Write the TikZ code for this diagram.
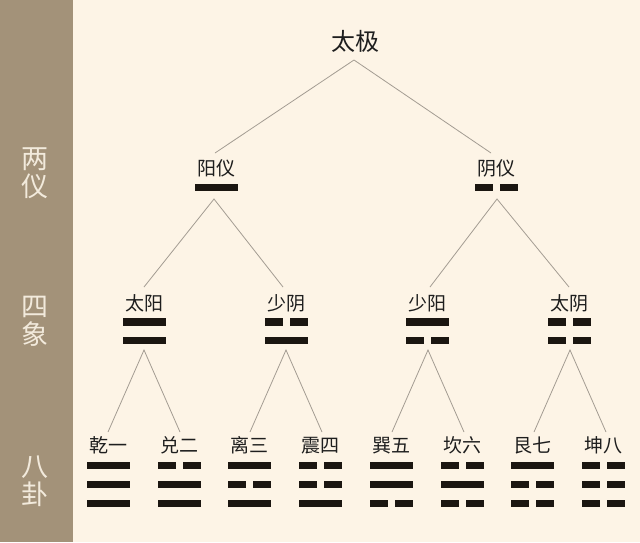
\documentclass[tikz,border=0pt]{standalone}
\usepackage{fontspec}
\setmainfont{Noto Sans CJK SC}
\definecolor{bgcream}{HTML}{FDF4E6}
\definecolor{bandcol}{HTML}{A39279}
\definecolor{bandtext}{HTML}{F2EADC}
\definecolor{barcol}{HTML}{1B1611}
\definecolor{linkcol}{HTML}{A39C92}
\definecolor{txtcol}{HTML}{1E1E1E}
\newcommand{\yangbar}[2]{\fill[barcol] ({#1-21.5},{#2-3.8}) rectangle ({#1+21.5},{#2+3.8});}
\newcommand{\yinbar}[2]{\fill[barcol] ({#1-21.5},{#2-3.8}) rectangle ({#1-3.5},{#2+3.8});
  \fill[barcol] ({#1+3.5},{#2-3.8}) rectangle ({#1+21.5},{#2+3.8});}
\tikzset{
  lbl/.style={inner sep=0pt, text=txtcol, font=\fontsize{19}{19}\selectfont},
  toplbl/.style={inner sep=0pt, text=txtcol, font=\fontsize{24}{24}\selectfont},
  bandlbl/.style={inner sep=0pt, text=bandtext, align=center, font=\fontsize{27}{28}\selectfont},
  link/.style={draw=linkcol, line width=0.8pt}
}
\begin{document}
\begin{tikzpicture}[x=1pt,y=-1pt]
\useasboundingbox (0,0) rectangle (640,542);
\fill[bgcream] (0,0) rectangle (640,542);
\fill[bandcol] (0,0) rectangle (73,542);
% band labels
\node[bandlbl] (liangyi) at (35,173) {两\\仪};
\node[bandlbl] (sixiang) at (35,321) {四\\象};
\node[bandlbl] (bagua) at (35,481) {八\\卦};
% top
\node[toplbl] (taiji) at (355,41) {太极};
\coordinate (taiji-b) at (354,60);
% level 1
\node[lbl] (yangyi) at (216,168.5) {阳仪};
\node[lbl] (yinyi) at (496.5,168.5) {阴仪};
\yangbar{216}{187.5}
\yinbar{496.5}{187.5}
\coordinate (yangyi-t) at (215,153);
\coordinate (yinyi-t) at (491,153);
\coordinate (yangyi-b) at (214,199);
\coordinate (yinyi-b) at (497,199);
% level 2
\node[lbl] (taiyang) at (144.5,303.5) {太阳};
\node[lbl] (shaoyin) at (286,303.5) {少阴};
\node[lbl] (shaoyang) at (427.5,303.5) {少阳};
\node[lbl] (taiyin) at (569.5,303.5) {太阴};
\yangbar{144.5}{322}\yangbar{144.5}{340.5}
\yinbar{286}{322}\yangbar{286}{340.5}
\yangbar{427.5}{322}\yinbar{427.5}{340.5}
\yinbar{569.5}{322}\yinbar{569.5}{340.5}
\coordinate (taiyang-t) at (144,287);
\coordinate (shaoyin-t) at (283,287);
\coordinate (shaoyang-t) at (430,287);
\coordinate (taiyin-t) at (569,287);
\coordinate (taiyang-b) at (144,350);
\coordinate (shaoyin-b) at (286,350);
\coordinate (shaoyang-b) at (428,350);
\coordinate (taiyin-b) at (570,350);
% level 3
\node[lbl] (qian) at (108.5,445.5) {乾一};
\node[lbl] (dui) at (179.5,445.5) {兑二};
\node[lbl] (li) at (249.5,445.5) {离三};
\node[lbl] (zhen) at (320.5,445.5) {震四};
\node[lbl] (xun) at (391.5,445.5) {巽五};
\node[lbl] (kan) at (462.5,445.5) {坎六};
\node[lbl] (gen) at (532.5,445.5) {艮七};
\node[lbl] (kun) at (603.5,445.5) {坤八};
% trigrams (top to bottom)
\yangbar{108.5}{465.5}\yangbar{108.5}{484.5}\yangbar{108.5}{503.5}
\yinbar{179.5}{465.5}\yangbar{179.5}{484.5}\yangbar{179.5}{503.5}
\yangbar{249.5}{465.5}\yinbar{249.5}{484.5}\yangbar{249.5}{503.5}
\yinbar{320.5}{465.5}\yinbar{320.5}{484.5}\yangbar{320.5}{503.5}
\yangbar{391.5}{465.5}\yangbar{391.5}{484.5}\yinbar{391.5}{503.5}
\yinbar{462.5}{465.5}\yangbar{462.5}{484.5}\yinbar{462.5}{503.5}
\yangbar{532.5}{465.5}\yinbar{532.5}{484.5}\yinbar{532.5}{503.5}
\yinbar{603.5}{465.5}\yinbar{603.5}{484.5}\yinbar{603.5}{503.5}
\coordinate (qian-t) at (108,432);
\coordinate (dui-t) at (180,432);
\coordinate (li-t) at (250,432);
\coordinate (zhen-t) at (322,432);
\coordinate (xun-t) at (392,432);
\coordinate (kan-t) at (464,432);
\coordinate (gen-t) at (534,432);
\coordinate (kun-t) at (606,432);
% connectors
\draw[link] (yangyi-t) -- (taiji-b) -- (yinyi-t);
\draw[link] (taiyang-t) -- (yangyi-b) -- (shaoyin-t);
\draw[link] (shaoyang-t) -- (yinyi-b) -- (taiyin-t);
\draw[link] (qian-t) -- (taiyang-b) -- (dui-t);
\draw[link] (li-t) -- (shaoyin-b) -- (zhen-t);
\draw[link] (xun-t) -- (shaoyang-b) -- (kan-t);
\draw[link] (gen-t) -- (taiyin-b) -- (kun-t);
\end{tikzpicture}
\end{document}
